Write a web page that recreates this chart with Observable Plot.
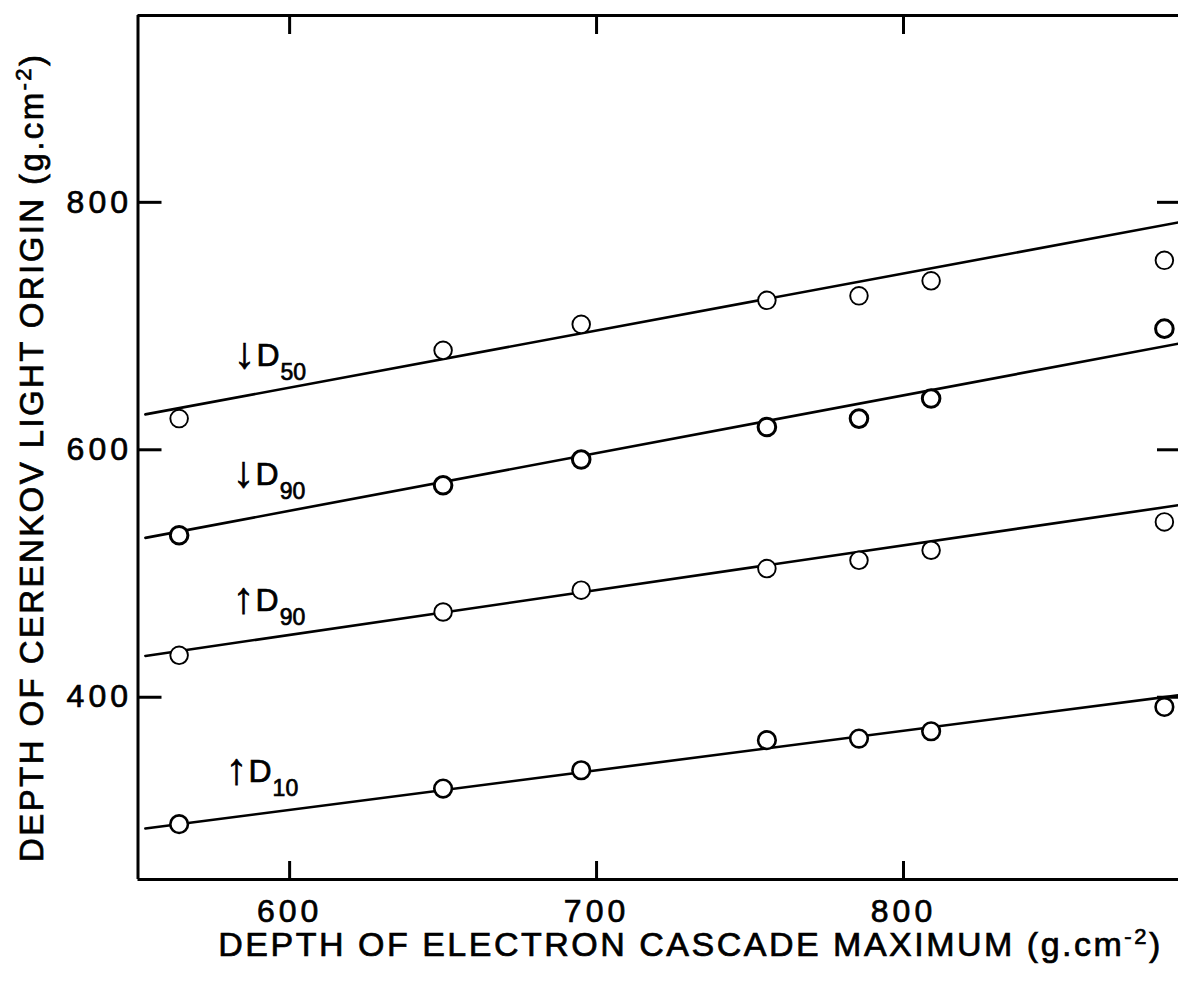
<!DOCTYPE html>
<html><head><meta charset="utf-8">
<script src="https://cdn.jsdelivr.net/npm/d3@7"></script>
<script src="https://cdn.jsdelivr.net/npm/@observablehq/plot@0.6"></script>
<style>
html,body{margin:0;padding:0;background:#fff;overflow:hidden}
svg{display:block}
.xtick-label text,.ytick-label text{letter-spacing:4px}
.xtick-label text,.ytick-label text,.xtitle text,.ytitle text,.curve-label text{stroke:black;stroke-width:0.7px}
</style></head><body><div id="chart"></div>
<script>
// ---- data ----
const xDepths = [564, 650, 695, 755.5, 785.5, 809, 885];
const seriesNames = ["↓D50", "↓D90", "↑D90", "↑D10"];
const d50Down = [625.2, 680.4, 701.4, 720.8, 724.4, 736.6, 753.1];
const d90Down = [530.9, 571.3, 592.1, 618.4, 625.2, 641.4, 697.9];
const d90Up   = [433.9, 468.9, 486.5, 504.0, 510.7, 518.8, 541.7];
const d10Up   = [297.4, 326.2, 341.0, 365.3, 366.6, 372.5, 392.2];
const fitX = [553, 889.6];
const fitD50Down = [628.6, 783.8];
const fitD90Down = [528.8, 685.8];
const fitD90Up   = [433.4, 555.2];
const fitD10Up   = [293.9, 401.6];
const labelX = [581.7, 581.4, 581.4, 579.1];
const labelY = [668.1, 571.2, 470.1, 331.1];
const xTicks = [600, 700, 800];
const yTicks = [400, 600, 800];
const xDomain = [550.6, 889.6];
const yDomain = [252.7, 951];
const xTitle = "DEPTH OF ELECTRON CASCADE MAXIMUM (g.cm-2)";
const yTitle = "DEPTH OF CERENKOV LIGHT ORIGIN (g.cm-2)";

const series = [d50Down, d90Down, d90Up, d10Up];
const fits = [fitD50Down, fitD90Down, fitD90Up, fitD10Up];
const dotStroke = [1.9, 3, 1.9, 2.6];

const W = 1178, H = 981, mT = 15, mB = 102, mL = 137.5, mR = 0;
const fw = W - mL - mR, fh = H - mT - mB;
const font = "'Liberation Sans', Arial, sans-serif";

const marks = [];
// frame (left, bottom, top; right edge is off the page)
marks.push(Plot.ruleX([xDomain[0]], {stroke: "black", strokeWidth: 3}));
marks.push(Plot.ruleY(yDomain, {stroke: "black", strokeWidth: 3}));
// inward ticks
marks.push(Plot.ruleX(xTicks, {x: d => d, insetTop: fh - 18, stroke: "black", strokeWidth: 3}));
marks.push(Plot.ruleX(xTicks, {x: d => d, insetBottom: fh - 19, stroke: "black", strokeWidth: 3}));
marks.push(Plot.ruleY(yTicks, {y: d => d, insetRight: fw - 24, stroke: "black", strokeWidth: 3}));
marks.push(Plot.ruleY(yTicks, {y: d => d, insetLeft: fw - 21, stroke: "black", strokeWidth: 3}));
// fitted lines and points
series.forEach((s, k) => {
  const fitData = fitX.map((x, i) => ({x, y: fits[k][i]}));
  marks.push(Plot.line(fitData, {x: "x", y: "y", stroke: "black", strokeWidth: 2.6}));
  const pts = xDepths.map((x, i) => ({x, y: s[i]}));
  marks.push(Plot.dot(pts, {x: "x", y: "y", r: 8.8, fill: "white", stroke: "black", strokeWidth: dotStroke[k]}));
});
// curve labels
marks.push(Plot.text(seriesNames, {
  x: (d, i) => labelX[i], y: (d, i) => labelY[i], text: d => d,
  textAnchor: "start", lineAnchor: "bottom", fontSize: 32, fontFamily: font, fill: "black",
  className: "curve-label"
}));
// tick labels
marks.push(Plot.text(xTicks, {x: d => d, text: d => String(d), frameAnchor: "bottom", dy: 32,
  lineAnchor: "middle", fontSize: 32, fontFamily: font, fill: "black", className: "xtick-label"}));
marks.push(Plot.text(yTicks, {y: d => d, text: d => String(d), frameAnchor: "left", dx: -6,
  textAnchor: "end", lineAnchor: "middle", fontSize: 32, fontFamily: font, fill: "black", className: "ytick-label"}));
// axis titles
marks.push(Plot.text([xTitle], {frameAnchor: "bottom", dy: 66, dx: 31, textAnchor: "middle", lineAnchor: "middle",
  fontSize: 34, fontFamily: font, fill: "black", className: "xtitle"}));
marks.push(Plot.text([yTitle], {frameAnchor: "left", dx: -106, dy: 11, rotate: -90, textAnchor: "middle", lineAnchor: "middle",
  fontSize: 33, fontFamily: font, fill: "black", className: "ytitle"}));

const chart = Plot.plot({
  width: W, height: H,
  marginTop: mT, marginBottom: mB, marginLeft: mL, marginRight: mR,
  x: {domain: xDomain, axis: null},
  y: {domain: yDomain, axis: null},
  style: {fontFamily: font, background: "white", color: "black", overflow: "visible"},
  marks
});
document.getElementById("chart").append(chart);

// tall arrows and subscripts on curve labels
d3.select(chart).selectAll(".curve-label text").each(function () {
  const t = this.textContent;
  const sel = d3.select(this);
  sel.text(null);
  sel.append("tspan").attr("font-size", 44).attr("dy", 2).text(t.slice(0, 1));
  sel.append("tspan").attr("dx", 1).attr("dy", -2).text(t.slice(1, 2));
  sel.append("tspan").attr("dx", 1).attr("dy", 14).attr("font-size", 23).text(t.slice(2));
});
// superscripts on axis titles, stretched to the original lettering width
function unitTitle(selector, len) {
  d3.select(chart).selectAll(selector + " text").each(function () {
    const t = this.textContent;
    const [base, rest] = t.split("cm-2");
    const sel = d3.select(this);
    sel.text(null);
    sel.append("tspan").text(base + "cm");
    sel.append("tspan").attr("dy", -12).attr("font-size", 22).text("-2");
    sel.append("tspan").attr("dy", 12).text(rest);
    sel.attr("textLength", len).attr("lengthAdjust", "spacing");
  });
}
unitTitle(".xtitle", 942);
unitTitle(".ytitle", 807);
</script></body></html>
